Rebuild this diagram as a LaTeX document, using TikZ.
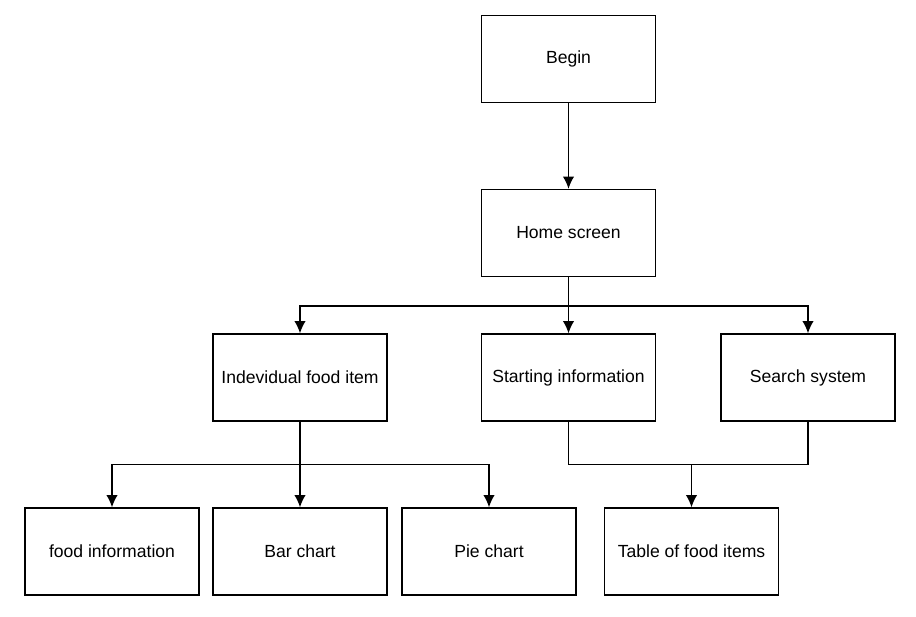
\documentclass[tikz,border=0pt]{standalone}
\usepackage{fontspec}
\setmainfont{Liberation Sans}
\usetikzlibrary{arrows.meta}

\begin{document}
\begin{tikzpicture}
[x=0.02cm, y=-0.02cm,
 block/.style ={rectangle, draw, line width=0.75pt, minimum width=3.48cm, minimum height=1.74cm, inner sep=0pt, align=center, font=\fontsize{10}{12}\selectfont},
 line/.style ={draw, line width=0.8pt, -{Latex[length=7pt,width=6.5pt]}}]
\useasboundingbox (0,0) rectangle (916,617);
\path (568.5,59) node[block] (Begin){Begin}
      (568.5,233) node[block] (Home){Home screen}
      (300,377.5) node[block] (Item){Indevidual food item}
      (568.5,377.5) node[block] (Start){Starting information}
      (808,377.5) node[block] (Search){Search system}
      (112,551.5) node[block] (Info){food information}
      (300,551.5) node[block] (Bar){Bar chart}
      (489,551.5) node[block] (Pie){Pie chart}
      (691.5,551.5) node[block] (Table){Table of food items};
\draw[line] (Begin) -- (Home);
\draw[line width=0.8pt] (Home.south) -- ++(0,29) coordinate (home);
\draw[line] (home) -| (Item.north);
\draw[line] (home) -- (Start.north);
\draw[line] (home) -| (Search.north);
\draw[line width=0.8pt] (Item.south) -- ++(0,43) coordinate (item);
\draw[line] (item) -| (Info.north);
\draw[line] (item) -- (Bar.north);
\draw[line] (item) -| (Pie.north);
\draw[line width=0.8pt] (Start.south) -- ++(0,43) coordinate (found) -| (Search.south);
\draw[line] (Table.north |- found) -- (Table.north);
\end{tikzpicture}
\end{document}
